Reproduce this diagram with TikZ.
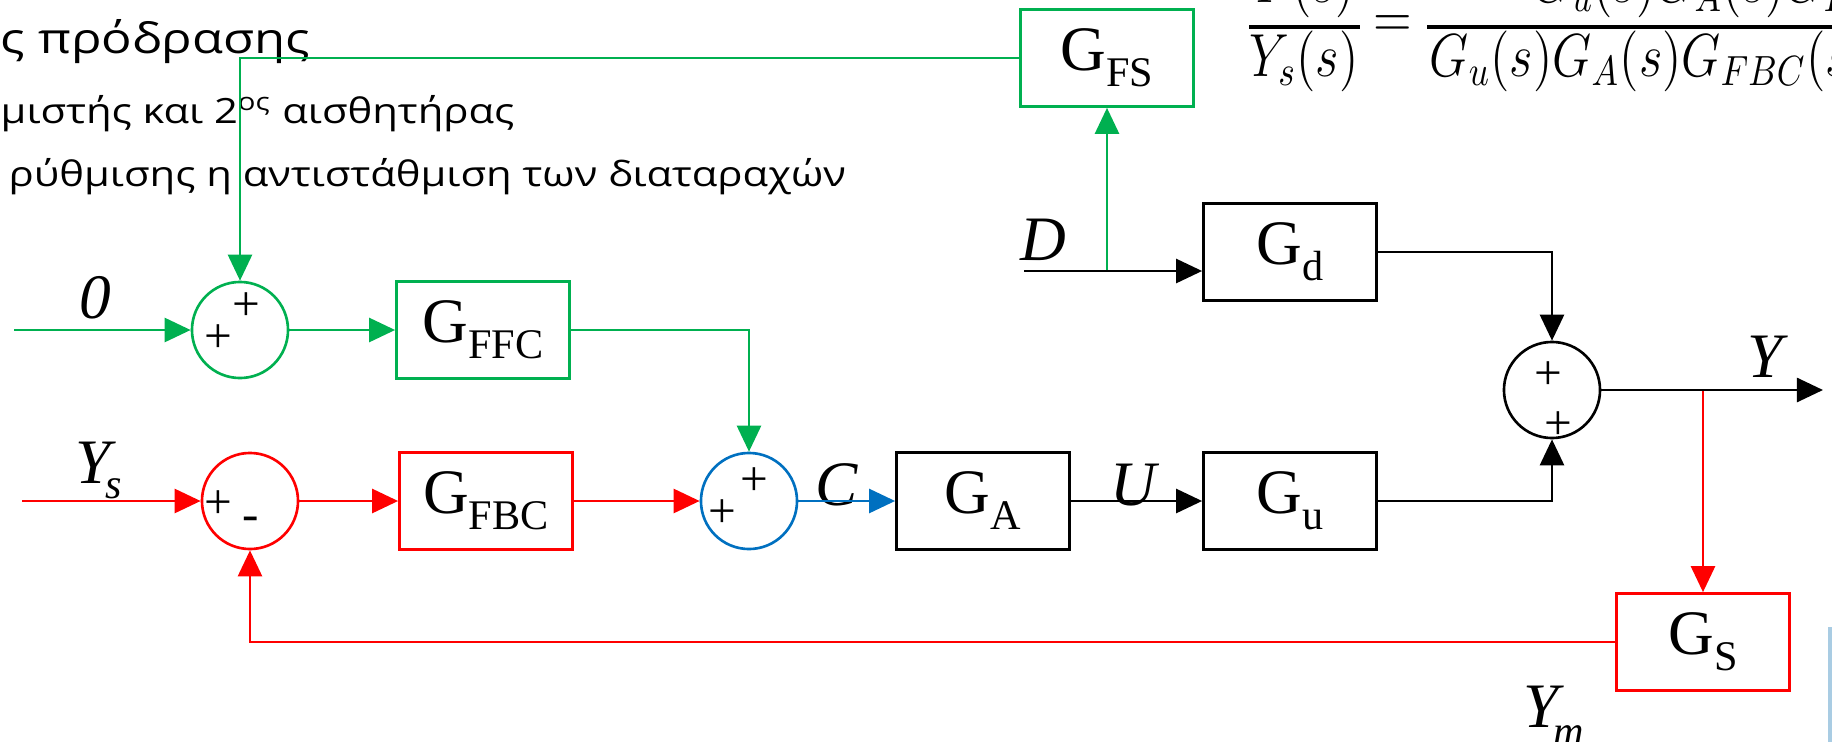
\documentclass[tikz,border=0pt]{standalone}
\usepackage{fontspec}
\setmainfont{Liberation Serif}
\newfontfamily\grfont[FakeStretch=1.2]{Open Sans}
\usepackage{graphicx}
\usepackage{tikz}
\usetikzlibrary{arrows.meta,calc}
\definecolor{ffg}{HTML}{00B050}
\definecolor{fbr}{HTML}{FF0000}
\definecolor{cblue}{HTML}{0070C0}
\definecolor{barblue}{HTML}{A9CCE3}
% block text: G with a lowered index
\newcommand{\gblk}[2]{{\fontsize{18}{20}\selectfont #1}\raisebox{-0.16cm}{\fontsize{12}{14}\selectfont #2}}

\begin{document}
\begin{tikzpicture}[
  x=0.01cm, y=-0.01cm,
  blk/.style={draw,line width=0.75pt,minimum width=1.73cm,minimum height=0.97cm,inner sep=0pt},
  sumc/.style={draw,circle,line width=0.75pt,minimum size=0.96cm,inner sep=0pt},
  sig/.style={line width=0.75pt,-{Triangle[length=0.26cm,width=0.24cm]}},
  lbl/.style={inner sep=0pt,anchor=base west,font=\fontsize{18}{20}\selectfont\itshape},
  sgn/.style={inner sep=0pt,font=\fontsize{14}{14}\selectfont},
  grk/.style={inner sep=0pt,anchor=base west},
  eq/.style={inner sep=0pt,font=\fontsize{14.2}{16}\selectfont},
]
  \useasboundingbox (0,0) rectangle (1832,742);
  \clip (0,0) rectangle (1832,742);

  % Greek text, cut on the left
  \node[grk,font=\grfont\fontsize{12}{14}\selectfont] (t1) at (0,53) {ς πρόδρασης};
  \node[grk,font=\grfont\fontsize{9.9}{12}\selectfont] (t2) at (0,123) {μιστής και 2\textsuperscript{ος} αισθητήρας};
  \node[grk,font=\grfont\fontsize{9.9}{12}\selectfont] (t3) at (8,186) {ρύθμισης η αντιστάθμιση των διαταραχών};

  % Equation, cut at top and right
  \node[eq,anchor=base] (numl) at (1304,2) {\scalebox{1}[1.2]{$Y(s)$}};
  \node[eq,anchor=base] (denl) at (1304,76) {\scalebox{1}[1.2]{$Y_s(s)$}};
  \draw[line width=1.1pt] (1249,27) -- (1360,27);
  \node[eq] (eqsign) at (1393,27) {\scalebox{1}[1.2]{$=$}};
  \node[eq,anchor=base west] (numr) at (1532,2) {\scalebox{1}[1.2]{$G_u(s)G_A(s)G_{FF}(s)$}};
  \node[eq,anchor=base west] (denr) at (1429,76) {\scalebox{1}[1.2]{$G_u(s)G_A(s)G_{FBC}(s)$}};
  \draw[line width=1.1pt] (1427,27) -- (1832,27);

  % Blocks
  \node[blk,draw=ffg] (gfs) at (1107,58) {\gblk{G}{FS}};
  \node[blk,draw=ffg] (gffc) at (483,330) {\gblk{G}{FFC}};
  \node[blk,draw=fbr] (gfbc) at (486,501) {\gblk{G}{FBC}};
  \node[blk] (ga) at (983,501) {\gblk{G}{A}};
  \node[blk] (gu) at (1290,501) {\gblk{G}{u}};
  \node[blk] (gd) at (1290,252) {\gblk{G}{d}};
  \node[blk,draw=fbr] (gs) at (1703,642) {\gblk{G}{S}};

  % Summing points
  \node[sumc,draw=ffg] (s1) at (240,330) {};
  \node[sumc,draw=fbr] (s2) at (250,501) {};
  \node[sumc,draw=cblue] (s3) at (749,501) {};
  \node[sumc] (s4) at (1552,390) {};
  \node[sgn] (s1a) at (246,307) {+};
  \node[sgn] (s1b) at (218,339) {+};
  \node[sgn] (s2a) at (218,505) {+};
  \node[sgn] (s2b) at (251,524) {-};
  \node[sgn] (s3a) at (754,482) {+};
  \node[sgn] (s3b) at (722,514) {+};
  \node[sgn] (s4a) at (1548,376) {+};
  \node[sgn] (s4b) at (1558,426) {+};

  % Signal labels
  \node[lbl] (l0) at (79,318) {0};
  \node[lbl] (lys) at (75,483) {Y\kern-1.5pt\raisebox{-0.15cm}{\fontsize{12}{14}\selectfont s}};
  \node[lbl] (lc) at (815,505) {C};
  \node[lbl] (lu) at (1110,505) {U};
  \node[lbl] (ld) at (1020,260) {D};
  \node[lbl] (ly) at (1747,377) {Y};
  \node[lbl] (lym) at (1523,727) {Y\kern-1.5pt\raisebox{-0.18cm}{\fontsize{12}{14}\selectfont m}};

  % Free ends
  \coordinate (in0) at (14,330);
  \coordinate (inys) at (22,501);
  \coordinate (inD) at (1024,271);
  \coordinate (outY) at (1823,390);
  \coordinate (tapD) at (gfs.south |- inD);
  \coordinate (tapY) at (gs.north |- s4.east);

  % Feedforward path (green)
  \draw[sig,ffg] (gfs.west) -| (s1.north);
  \draw[sig,ffg] (in0) -- (s1.west);
  \draw[sig,ffg] (s1.east) -- (gffc.west);
  \draw[sig,ffg] (gffc.east) -| (s3.north);
  \draw[sig,ffg] (tapD) -- (gfs.south);

  % Feedback path (red)
  \draw[sig,fbr] (inys) -- (s2.west);
  \draw[sig,fbr] (s2.east) -- (gfbc.west);
  \draw[sig,fbr] (gfbc.east) -- (s3.west);
  \draw[sig,fbr] (tapY) -- (gs.north);
  \draw[sig,fbr] (gs.west) -| (s2.south);

  % Process
  \draw[sig,cblue] (s3.east) -- (ga.west);
  \draw[sig] (ga.east) -- (gu.west);
  \draw[sig] (gu.east) -| (s4.south);
  \draw[sig] (inD) -- (inD -| gd.west);
  \draw[sig] (gd.east) -| (s4.north);
  \draw[sig] (s4.east) -- (outY);

  \fill[barblue] (1828,627) rectangle (1832,742);
\end{tikzpicture}
\end{document}
